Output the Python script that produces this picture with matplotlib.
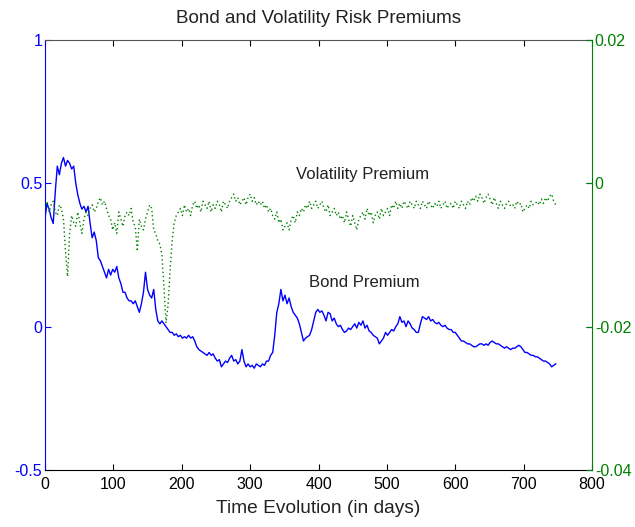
import numpy as np
import matplotlib
matplotlib.use("Agg")
import matplotlib.pyplot as plt

plt.rcParams['font.family'] = ['Liberation Sans', 'DejaVu Sans']

# Bond premium, sampled every 3 days (day 0, 3, 6, ...)
bond_premium = [
    0.38, 0.43, 0.41, 0.38, 0.36, 0.47, 0.56, 0.53, 0.57, 0.59,
    0.56, 0.58, 0.57, 0.55, 0.56, 0.50, 0.46, 0.43, 0.41, 0.42,
    0.40, 0.42, 0.36, 0.31, 0.33, 0.30, 0.24, 0.23, 0.21, 0.19,
    0.17, 0.20, 0.18, 0.20, 0.19, 0.21, 0.17, 0.15, 0.12, 0.12,
    0.10, 0.09, 0.09, 0.08, 0.09, 0.07, 0.05, 0.08, 0.12, 0.19,
    0.13, 0.11, 0.10, 0.13, 0.06, 0.02, 0.01, 0.02, 0.01, 0.00,
    -0.01, -0.02, -0.02, -0.03, -0.025, -0.035, -0.03, -0.04, -0.035, -0.04,
    -0.03, -0.04, -0.035, -0.05, -0.07, -0.08, -0.085, -0.09, -0.095, -0.10,
    -0.09, -0.10, -0.095, -0.11, -0.12, -0.115, -0.14, -0.13, -0.12, -0.125,
    -0.11, -0.10, -0.12, -0.115, -0.13, -0.12, -0.08, -0.12, -0.14, -0.13,
    -0.14, -0.135, -0.145, -0.13, -0.135, -0.14, -0.13, -0.135, -0.12, -0.12,
    -0.10, -0.09, -0.03, 0.05, 0.08, 0.13, 0.09, 0.11, 0.08, 0.10,
    0.07, 0.05, 0.04, 0.03, 0.01, -0.02, -0.05, -0.04, -0.035, -0.03,
    -0.01, 0.02, 0.05, 0.06, 0.05, 0.055, 0.04, 0.02, 0.05, 0.045,
    0.02, 0.03, 0.01, 0.00, 0.005, -0.01, -0.02, -0.015, -0.005, -0.01,
    0.00, 0.01, -0.005, 0.015, 0.005, 0.02, -0.005, 0.005, -0.015, -0.02,
    -0.03, -0.035, -0.04, -0.06, -0.05, -0.04, -0.02, -0.03, -0.02, -0.01,
    -0.015, 0.00, 0.01, 0.035, 0.015, 0.02, 0.00, 0.02, 0.01, -0.005,
    -0.01, -0.02, -0.02, 0.01, 0.035, 0.03, 0.025, 0.035, 0.02, 0.025,
    0.015, 0.01, 0.015, 0.005, 0.00, 0.005, -0.005, -0.01, -0.01, -0.02,
    -0.02, -0.03, -0.04, -0.05, -0.05, -0.055, -0.06, -0.06, -0.065, -0.07,
    -0.07, -0.065, -0.06, -0.06, -0.065, -0.06, -0.065, -0.055, -0.05, -0.055,
    -0.06, -0.06, -0.065, -0.07, -0.075, -0.07, -0.075, -0.08, -0.075, -0.075,
    -0.07, -0.065, -0.07, -0.08, -0.09, -0.09, -0.095, -0.10, -0.10, -0.105,
    -0.105, -0.11, -0.115, -0.12, -0.12, -0.125, -0.13, -0.14, -0.135, -0.13,
]

# Volatility premium, sampled every 3 days (day 0, 3, 6, ...)
volatility_premium = [
    -0.0035, -0.0025, -0.004, -0.003, -0.0025, -0.004, -0.0045, -0.003, -0.0035, -0.005,
    -0.0095, -0.013, -0.007, -0.0045, -0.0055, -0.006, -0.004, -0.0055, -0.007, -0.005,
    -0.004, -0.0045, -0.0035, -0.003, -0.004, -0.0035, -0.0025, -0.002, -0.003, -0.0025,
    -0.0035, -0.0045, -0.005, -0.0065, -0.0055, -0.007, -0.004, -0.005, -0.006, -0.0045,
    -0.004, -0.0045, -0.0035, -0.0055, -0.006, -0.0095, -0.005, -0.006, -0.0065, -0.005,
    -0.004, -0.003, -0.0035, -0.0065, -0.007, -0.008, -0.0085, -0.010, -0.0145, -0.0195,
    -0.017, -0.012, -0.008, -0.0055, -0.0045, -0.004, -0.0035, -0.0045, -0.003, -0.004,
    -0.0035, -0.0045, -0.003, -0.0025, -0.0035, -0.003, -0.004, -0.0025, -0.003, -0.0035,
    -0.0025, -0.004, -0.003, -0.0035, -0.0025, -0.003, -0.004, -0.0025, -0.003, -0.0035,
    -0.0025, -0.002, -0.0015, -0.0025, -0.002, -0.003, -0.0025, -0.002, -0.003, -0.002,
    -0.0015, -0.0025, -0.002, -0.003, -0.0025, -0.003, -0.0025, -0.0035, -0.003, -0.004,
    -0.0035, -0.0045, -0.005, -0.004, -0.0055, -0.005, -0.0065, -0.006, -0.0055, -0.0065,
    -0.005, -0.0045, -0.0055, -0.004, -0.0045, -0.0035, -0.004, -0.003, -0.0035, -0.0025,
    -0.0035, -0.003, -0.0025, -0.0035, -0.003, -0.0025, -0.0035, -0.004, -0.003, -0.0045,
    -0.004, -0.0035, -0.0045, -0.004, -0.005, -0.0045, -0.0055, -0.004, -0.005, -0.006,
    -0.0045, -0.0055, -0.0065, -0.005, -0.0045, -0.004, -0.005, -0.0035, -0.0045, -0.004,
    -0.0055, -0.0045, -0.004, -0.005, -0.0035, -0.0045, -0.004, -0.0035, -0.0045, -0.003,
    -0.0035, -0.0025, -0.0035, -0.0028, -0.0035, -0.0025, -0.003, -0.0035, -0.0025, -0.003,
    -0.0035, -0.0025, -0.003, -0.0035, -0.0025, -0.003, -0.0035, -0.0025, -0.003, -0.0035,
    -0.0028, -0.0032, -0.0025, -0.0035, -0.003, -0.0025, -0.0035, -0.003, -0.0028, -0.0035,
    -0.0025, -0.003, -0.0035, -0.0025, -0.003, -0.0035, -0.0025, -0.003, -0.002, -0.0025,
    -0.0018, -0.0025, -0.0015, -0.002, -0.0028, -0.002, -0.0015, -0.0022, -0.003, -0.002,
    -0.0028, -0.0035, -0.0025, -0.003, -0.0035, -0.0028, -0.0025, -0.0032, -0.003, -0.0035,
    -0.0025, -0.003, -0.0028, -0.004, -0.0035, -0.003, -0.0035, -0.0025, -0.003, -0.0028,
    -0.0025, -0.003, -0.0022, -0.0028, -0.002, -0.0025, -0.0018, -0.0015, -0.0025, -0.003,
]

sample_step = 3
bond_days = np.arange(len(bond_premium)) * sample_step
vol_days = np.arange(len(volatility_premium)) * sample_step

x_ticks = [0, 100, 200, 300, 400, 500, 600, 700, 800]
left_ticks = [-0.5, 0, 0.5, 1]
left_labels = ['-0.5', '0', '0.5', '1']
right_ticks = [-0.04, -0.02, 0, 0.02]
right_labels = ['-0.04', '-0.02', '0', '0.02']

blue = '#0000ff'
green = '#008000'

fig = plt.figure(figsize=(6.35, 5.27), dpi=100)
ax = fig.add_axes([45/635, 1-470/527, (592-45)/635, (470-40)/527])
ax2 = ax.twinx()

ax.plot(bond_days, bond_premium, color=blue, lw=1.0)
ax2.plot(vol_days, volatility_premium, color=green, lw=1.0, linestyle=(0, (1, 2)))

ax.set_xlim(0, 800)
ax.set_ylim(-0.5, 1)
ax2.set_ylim(-0.04, 0.02)
ax.set_xticks(x_ticks)
ax.set_xticklabels([str(t) for t in x_ticks])
ax.set_yticks(left_ticks)
ax.set_yticklabels(left_labels)
ax2.set_yticks(right_ticks)
ax2.set_yticklabels(right_labels)

ax.tick_params(axis='x', direction='in', length=4, top=True, labelsize=11.5, colors='black', pad=5)
ax.tick_params(axis='y', direction='in', length=4, right=True, labelsize=11.5, colors=blue, pad=2)
ax2.tick_params(axis='y', direction='in', length=4, labelsize=11.5, colors=green, pad=2)
ax2.tick_params(axis='x', top=False, bottom=False)

ax.spines['left'].set_color(blue)
ax.spines['top'].set_color('#555555')
ax.spines['bottom'].set_color('black')
ax.spines['right'].set_visible(False)
ax2.spines['right'].set_color(green)
ax2.spines['left'].set_visible(False)
ax2.spines['top'].set_visible(False)
ax2.spines['bottom'].set_visible(False)

ax.text(367, 0.53, 'Volatility Premium', fontsize=12, ha='left', va='center', color='#222222')
ax.text(386, 0.155, 'Bond Premium', fontsize=12, ha='left', va='center', color='#222222')

ax.set_title('Bond and Volatility Risk Premiums', fontsize=13.5, color='#222222', pad=12)
ax.set_xlabel('Time Evolution (in days)', fontsize=13.8, color='#222222', labelpad=6)

fig.savefig('out.png', dpi=100)
